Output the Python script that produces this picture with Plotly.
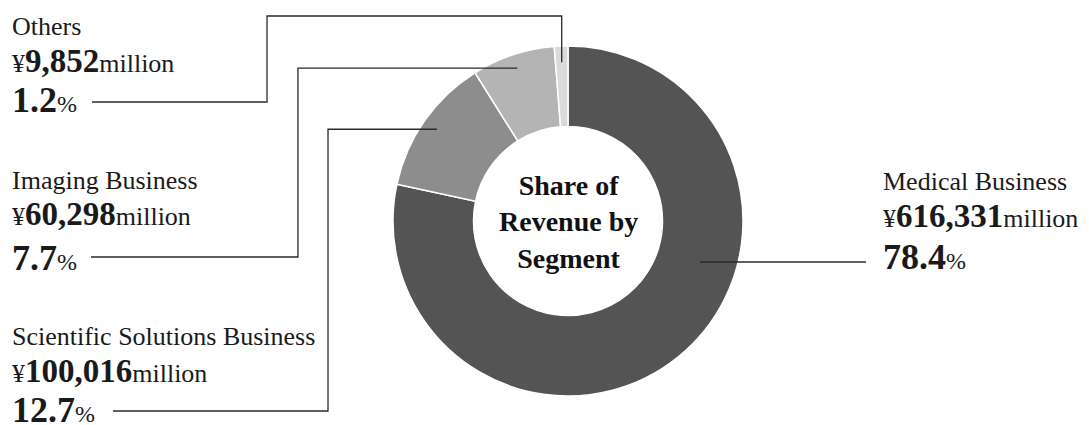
import math
import plotly.graph_objects as go

# ---- data ----
segments = ["Medical Business", "Scientific Solutions Business", "Imaging Business", "Others"]
revenue_million = [616331, 100016, 60298, 9852]
share_pct = [78.4, 12.7, 7.7, 1.2]
colors = ["#545454", "#8d8d8d", "#b4b4b4", "#dadada"]
center_title = "Share of<br>Revenue by<br>Segment"

W, H = 1089, 425
CX, CY, R = 568, 221, 175
HOLE = 0.54
SERIF = "Liberation Serif, Times New Roman, serif"
REG, NUM2, NUM3, PCT = 26, 33, 36, 24

def px(x):
    return x / W

def py(y):
    return 1 - y / H

fig = go.Figure()
fig.add_trace(go.Pie(
    labels=segments, values=revenue_million, sort=False, direction="clockwise",
    rotation=0, hole=HOLE, textinfo="none", hoverinfo="label+percent",
    marker=dict(colors=colors, line=dict(color="white", width=1.5)),
    domain=dict(x=[px(CX - R), px(CX + R)], y=[py(CY + R), py(CY - R)]),
    showlegend=False,
))

# label block positions: (x_left, baseline1, baseline2, baseline3)
label_pos = {
    "Medical Business": (883, 190, 227, 269),
    "Scientific Solutions Business": (12, 345, 382, 422),
    "Imaging Business": (12, 189, 225, 270),
    "Others": (12, 35, 72, 112),
}

annotations = []
def add_line(x, baseline, text, maxsize):
    annotations.append(dict(
        x=px(x), y=py(baseline + 0.216 * maxsize), xref="paper", yref="paper",
        xanchor="left", yanchor="bottom", text=text, showarrow=False,
        borderpad=0, borderwidth=0, align="left",
        font=dict(family=SERIF, size=REG, color="#1a1a1a"),
    ))

for name, val, pct in zip(segments, revenue_million, share_pct):
    x, b1, b2, b3 = label_pos[name]
    add_line(x, b1, name, REG)
    add_line(x, b2, "¥<b><span style='font-size:{}px'>{:,}</span></b>million".format(NUM2, val), NUM2)
    add_line(x, b3, "<b><span style='font-size:{}px'>{:.1f}</span></b><span style='font-size:{}px'>%</span>".format(NUM3, pct, PCT), NUM3)

annotations.append(dict(
    x=px(CX), y=py(222), xref="paper", yref="paper", xanchor="center", yanchor="middle",
    text="<b>" + center_title + "</b>", showarrow=False,
    font=dict(family=SERIF, size=28, color="#111111"),
))

# leader lines: start inside slice at mid-angle, then elbow to the label
total = sum(revenue_million)
cum = 0
mid_angles = {}
for name, val in zip(segments, revenue_million):
    mid_angles[name] = (cum + val / 2) / total * 2 * math.pi
    cum += val

def slice_point(name, r):
    a = mid_angles[name]
    return CX + r * math.sin(a), CY - r * math.cos(a)

line_style = dict(color="#2a2a2a", width=1.3)
shapes = []
def path(points):
    d = "M " + " L ".join("{:.4f},{:.4f}".format(px(x), py(y)) for x, y in points)
    shapes.append(dict(type="path", path=d, xref="paper", yref="paper",
                       line=line_style, layer="above"))

ox, oy = slice_point("Others", 159)
path([(ox, oy), (ox, 16), (267, 16), (267, 102), (92, 102)])
ix, iy = slice_point("Imaging Business", 161)
path([(ix, iy), (298, iy), (298, 257), (91, 257)])
sx, sy = slice_point("Scientific Solutions Business", 160)
path([(sx, sy), (328, sy), (328, 411), (113, 411)])
path([(700, 262), (866, 262)])

fig.update_layout(
    width=W, height=H, margin=dict(l=0, r=0, t=0, b=0),
    paper_bgcolor="white", plot_bgcolor="white",
    annotations=annotations, shapes=shapes,
)
fig.write_html("out.html", config={"displayModeBar": False},
               post_script="document.body.style.margin='0';document.body.style.overflow='hidden';")
